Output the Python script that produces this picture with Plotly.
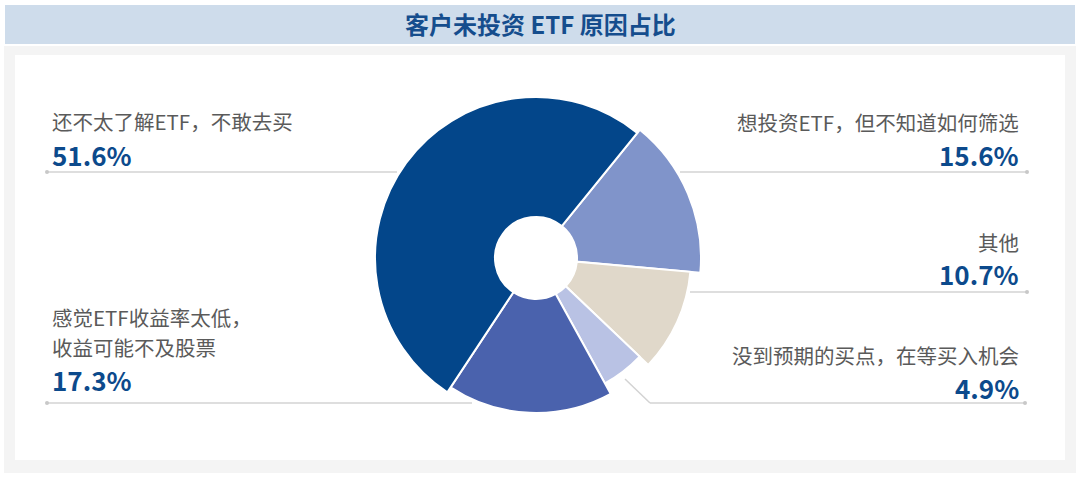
import numpy as np
import plotly.graph_objects as go

# 客户未投资 ETF 原因占比 (clockwise from the upper right)
reasons = ['想投资ETF，但不知道如何筛选', '其他', '没到预期的买点，在等买入机会',
           '感觉ETF收益率太低，|收益可能不及股票', '还不太了解ETF，不敢去买']
shares = [15.6, 10.7, 4.9, 17.3, 51.6]
pct_text = ['15.6%', '10.7%', '4.9%', '17.3%', '51.6%']

colors = ['#8094CA', '#E0D8CA', '#B9C2E4', '#4A62AD', '#03468A']
outer_px = [165, 155, 143, 155, 161]
hole_px = 41
start_deg = 39

W, H = 1080, 487
CX, CY, R = 536, 258, 166

def px(x):
    return x / W

def py(y):
    return 1 - y / H

vals = np.array(shares)
ang = vals / vals.sum() * 360
theta = start_deg + np.cumsum(ang) - ang / 2

fig = go.Figure()
fig.add_trace(go.Barpolar(
    r=[o - hole_px for o in outer_px],
    base=hole_px,
    theta=theta,
    width=ang,
    marker=dict(color=colors, line=dict(color='white', width=2)),
    text=[t.replace('|', '') for t in reasons],
    hoverinfo='text',
))

grey = '#D3D3D3'
label_col = '#5A5A5A'
pct_col = '#0C4A8C'
FONT = 'Noto Sans CJK SC'

# label blocks: (index, side, label y, pct y, line y, line x0, line x1)
blocks = [
    (4, 'left', 121, 154, 172, 47, 397),
    (0, 'right', 122, 154, 172, 680, 1027),
    (1, 'right', 242, 273, 292, 690, 1027),
    (2, 'right', 355, 387, 403, 650, 1025),
    (3, 'left', 317, 379, 403, 47, 472),
]

annotations = []
shapes = [
    dict(type='rect', xref='paper', yref='paper', x0=px(4), x1=px(1076), y0=py(473), y1=py(46),
         fillcolor='#F4F4F4', line_width=0, layer='below'),
    dict(type='rect', xref='paper', yref='paper', x0=px(15), x1=px(1065), y0=py(460), y1=py(55),
         fillcolor='white', line_width=0, layer='below'),
    dict(type='rect', xref='paper', yref='paper', x0=px(5), x1=px(1075), y0=py(44), y1=py(5),
         fillcolor='#CEDCEB', line_width=0, layer='below'),
]

for i, side, ly, pyy, liy, x0, x1 in blocks:
    tx = 50 if side == 'left' else 1021
    anchor = 'left' if side == 'left' else 'right'
    for k, part in enumerate(reasons[i].split('|')):
        annotations.append(dict(x=px(tx), y=py(ly + 30 * k), xref='paper', yref='paper', text=part,
                                showarrow=False, xanchor=anchor, yanchor='middle', align=anchor,
                                font=dict(family=FONT, size=20.5, color=label_col)))
    annotations.append(dict(x=px(tx), y=py(pyy), xref='paper', yref='paper',
                            text='<b>' + pct_text[i] + '</b>',
                            showarrow=False, xanchor=anchor, yanchor='middle',
                            font=dict(family=FONT, size=26, color=pct_col)))
    shapes.append(dict(type='line', xref='paper', yref='paper', x0=px(x0), x1=px(x1),
                       y0=py(liy), y1=py(liy), line=dict(color=grey, width=1.5)))
    dot_x = x0 if side == 'left' else x1
    shapes.append(dict(type='circle', xref='paper', yref='paper', x0=px(dot_x - 2), x1=px(dot_x + 2),
                       y0=py(liy + 2), y1=py(liy - 2), fillcolor='#C8C8C8', line_width=0))

# leader for the small slice
shapes.append(dict(type='line', xref='paper', yref='paper', x0=px(625), x1=px(650),
                   y0=py(379), y1=py(403), line=dict(color=grey, width=1.5)))

annotations.append(dict(x=0.5, y=py(24), xref='paper', yref='paper',
                        text='<b>客户未投资 ETF 原因占比</b>', showarrow=False,
                        xanchor='center', yanchor='middle',
                        font=dict(family=FONT, size=24, color='#154D8D')))

fig.update_layout(
    width=W, height=H,
    margin=dict(l=0, r=0, t=0, b=0),
    paper_bgcolor='white',
    showlegend=False,
    polar=dict(
        domain=dict(x=[px(CX - R), px(CX + R)], y=[py(CY + R), py(CY - R)]),
        bgcolor='rgba(0,0,0,0)',
        radialaxis=dict(range=[0, R], visible=False),
        angularaxis=dict(rotation=90, direction='clockwise', visible=False),
        bargap=0,
    ),
    annotations=annotations,
    shapes=shapes,
)

# drop the browser's default body margin so the chart sits at the page corner
fig.write_html('out.html', config={'displayModeBar': False},
               post_script="document.body.style.margin='0';")
